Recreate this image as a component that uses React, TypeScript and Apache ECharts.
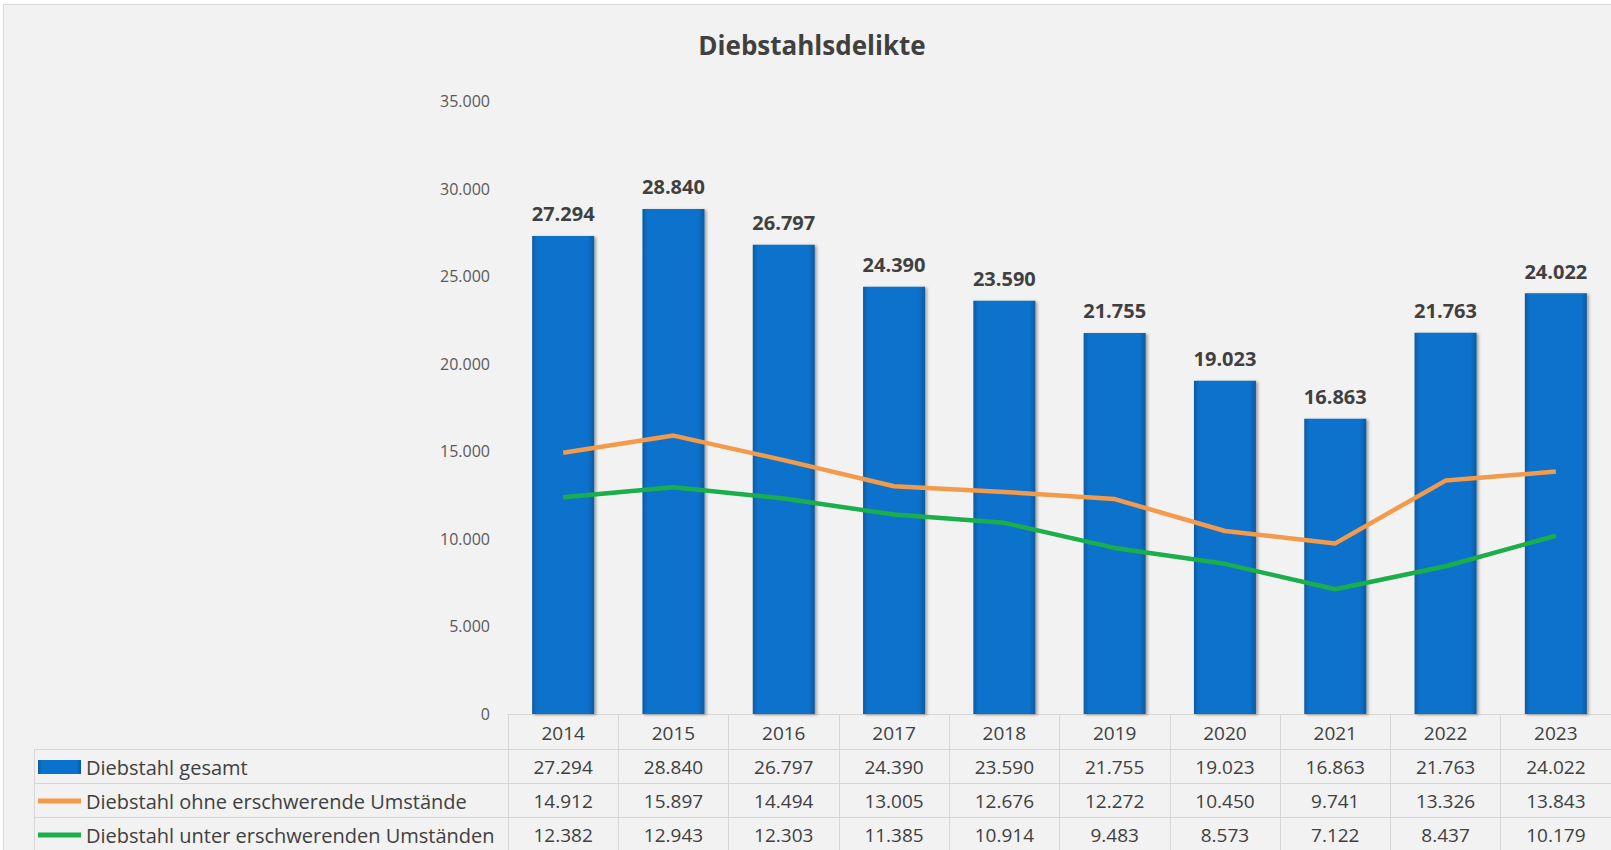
import React, { useEffect, useRef } from "react";
import * as echarts from "echarts";

const title = "Diebstahlsdelikte";
const years = ["2014", "2015", "2016", "2017", "2018", "2019", "2020", "2021", "2022", "2023"];
const seriesNames = [
  "Diebstahl gesamt",
  "Diebstahl ohne erschwerende Umstände",
  "Diebstahl unter erschwerenden Umständen",
];
const gesamt = [27294, 28840, 26797, 24390, 23590, 21755, 19023, 16863, 21763, 24022];
const ohne = [14912, 15897, 14494, 13005, 12676, 12272, 10450, 9741, 13326, 13843];
const unter = [12382, 12943, 12303, 11385, 10914, 9483, 8573, 7122, 8437, 10179];
const yTicks = { min: 0, max: 35000, interval: 5000 };

const fmt = (v: number) => String(v).replace(/\B(?=(\d{3})+(?!\d))/g, ".");

const FONT = "'Open Sans', 'DejaVu Sans', sans-serif";
const TEXT = "#404040";
const GRIDLINE = "#d6d6d6";
const BLUE = "#0872cc";
const ORANGE = "#f39a4b";
const GREEN = "#1baf4b";

export default function App() {
  const ref = useRef<HTMLDivElement>(null);
  useEffect(() => {
    if (!ref.current) return;
    const chart = echarts.init(ref.current, null, { renderer: "svg" });
    const gridBottomY = 714;
    const rowH = 34;
    const headerH = 35;
    const tableAxis = (data: string[], offset: number, h: number) => ({
      type: "category",
      gridIndex: 0,
      position: "bottom",
      offset,
      data,
      boundaryGap: true,
      axisLine: { show: true, lineStyle: { color: GRIDLINE, width: 1 } },
      axisTick: { show: true, interval: 0, length: h, lineStyle: { color: GRIDLINE, width: 1 } },
      axisLabel: {
        show: true,
        interval: 0,
        margin: Math.round((h - 20) / 2) + 1,
        fontFamily: FONT,
        fontSize: 19,
        lineHeight: 20,
        color: TEXT,
      },
      splitLine: { show: false },
    });

    const barGradient = new echarts.graphic.LinearGradient(0, 0, 1, 0, [
      { offset: 0, color: "#0a5a9f" },
      { offset: 0.08, color: BLUE },
      { offset: 0.9, color: BLUE },
      { offset: 1, color: "#0a5a9f" },
    ]);

    const leftX = 34;
    const tableLeftEnd = 508;
    const lineY = [gridBottomY + headerH, gridBottomY + headerH + rowH, gridBottomY + headerH + 2 * rowH];
    const lineIcon = "path://M0 0H100V12H0Z";

    chart.setOption({
      animation: false,
      backgroundColor: "#ffffff",
      title: {
        text: title,
        left: 807,
        textAlign: "center",
        top: 27,
        textStyle: { fontFamily: FONT, fontSize: 26, fontWeight: "bold", color: TEXT },
      },
      graphic: [
        {
          type: "rect",
          z: -100,
          silent: true,
          shape: { x: 3.5, y: 4.5, width: 1700, height: 900 },
          style: { fill: "#f2f2f2", stroke: "#d9d9d9", lineWidth: 1 },
        },
        ...lineY.map((y) => ({
          type: "line",
          silent: true,
          shape: { x1: leftX, y1: y + 0.5, x2: tableLeftEnd, y2: y + 0.5 },
          style: { stroke: GRIDLINE, lineWidth: 1 },
        })),
        {
          type: "line",
          silent: true,
          shape: { x1: leftX + 0.5, y1: lineY[0], x2: leftX + 0.5, y2: 860 },
          style: { stroke: GRIDLINE, lineWidth: 1 },
        },
        {
          type: "line",
          silent: true,
          shape: { x1: tableLeftEnd + 0.5, y1: gridBottomY, x2: tableLeftEnd + 0.5, y2: 860 },
          style: { stroke: GRIDLINE, lineWidth: 1 },
        },
      ],
      legend: {
        orient: "vertical",
        left: 38,
        top: lineY[0] + 1,
        height: 200,
        padding: 0,
        itemGap: 0,
        itemWidth: 43,
        itemHeight: 14,
        symbolKeepAspect: true,
        textStyle: { fontFamily: FONT, fontSize: 20, lineHeight: rowH, color: TEXT },
        data: [
          { name: seriesNames[0], icon: "rect" },
          { name: seriesNames[1], icon: lineIcon, itemStyle: { color: ORANGE } },
          { name: seriesNames[2], icon: lineIcon, itemStyle: { color: GREEN } },
        ],
      },
      grid: { left: 508, right: 0, top: 101, bottom: 850 - gridBottomY, containLabel: false },
      xAxis: [
        tableAxis(years, 0, headerH),
        tableAxis(gesamt.map(fmt), headerH, rowH),
        tableAxis(ohne.map(fmt), headerH + rowH, rowH),
        tableAxis(unter.map(fmt), headerH + 2 * rowH, rowH),
      ],
      yAxis: {
        type: "value",
        min: yTicks.min,
        max: yTicks.max,
        interval: yTicks.interval,
        axisLine: { show: false },
        axisTick: { show: false },
        splitLine: { show: false },
        axisLabel: {
          margin: 18,
          fontFamily: FONT,
          fontSize: 16,
          color: "#595959",
          formatter: (v: number) => fmt(v),
        },
      },
      series: [
        {
          name: seriesNames[0],
          type: "bar",
          xAxisIndex: 0,
          data: gesamt,
          barWidth: 62,
          itemStyle: {
            color: barGradient,
            shadowColor: "rgba(0,0,0,0.35)",
            shadowBlur: 3,
            shadowOffsetX: 2,
            shadowOffsetY: 1,
          },
          label: {
            show: true,
            position: "top",
            distance: 12,
            fontFamily: FONT,
            fontSize: 20,
            fontWeight: "bold",
            color: TEXT,
            formatter: (p: any) => fmt(p.value),
          },
          z: 2,
        },
        {
          name: seriesNames[1],
          type: "line",
          xAxisIndex: 0,
          data: ohne,
          symbol: "none",
          lineStyle: { color: ORANGE, width: 4.5 },
          itemStyle: { color: ORANGE },
          z: 3,
        },
        {
          name: seriesNames[2],
          type: "line",
          xAxisIndex: 0,
          data: unter,
          symbol: "none",
          lineStyle: { color: GREEN, width: 4.5 },
          itemStyle: { color: GREEN },
          z: 3,
        },
      ],
    });
    return () => chart.dispose();
  }, []);
  return (
    <div
      ref={ref}
      style={{ position: "fixed", left: 0, top: 0, width: 1611, height: 850 }}
    />
  );
}
